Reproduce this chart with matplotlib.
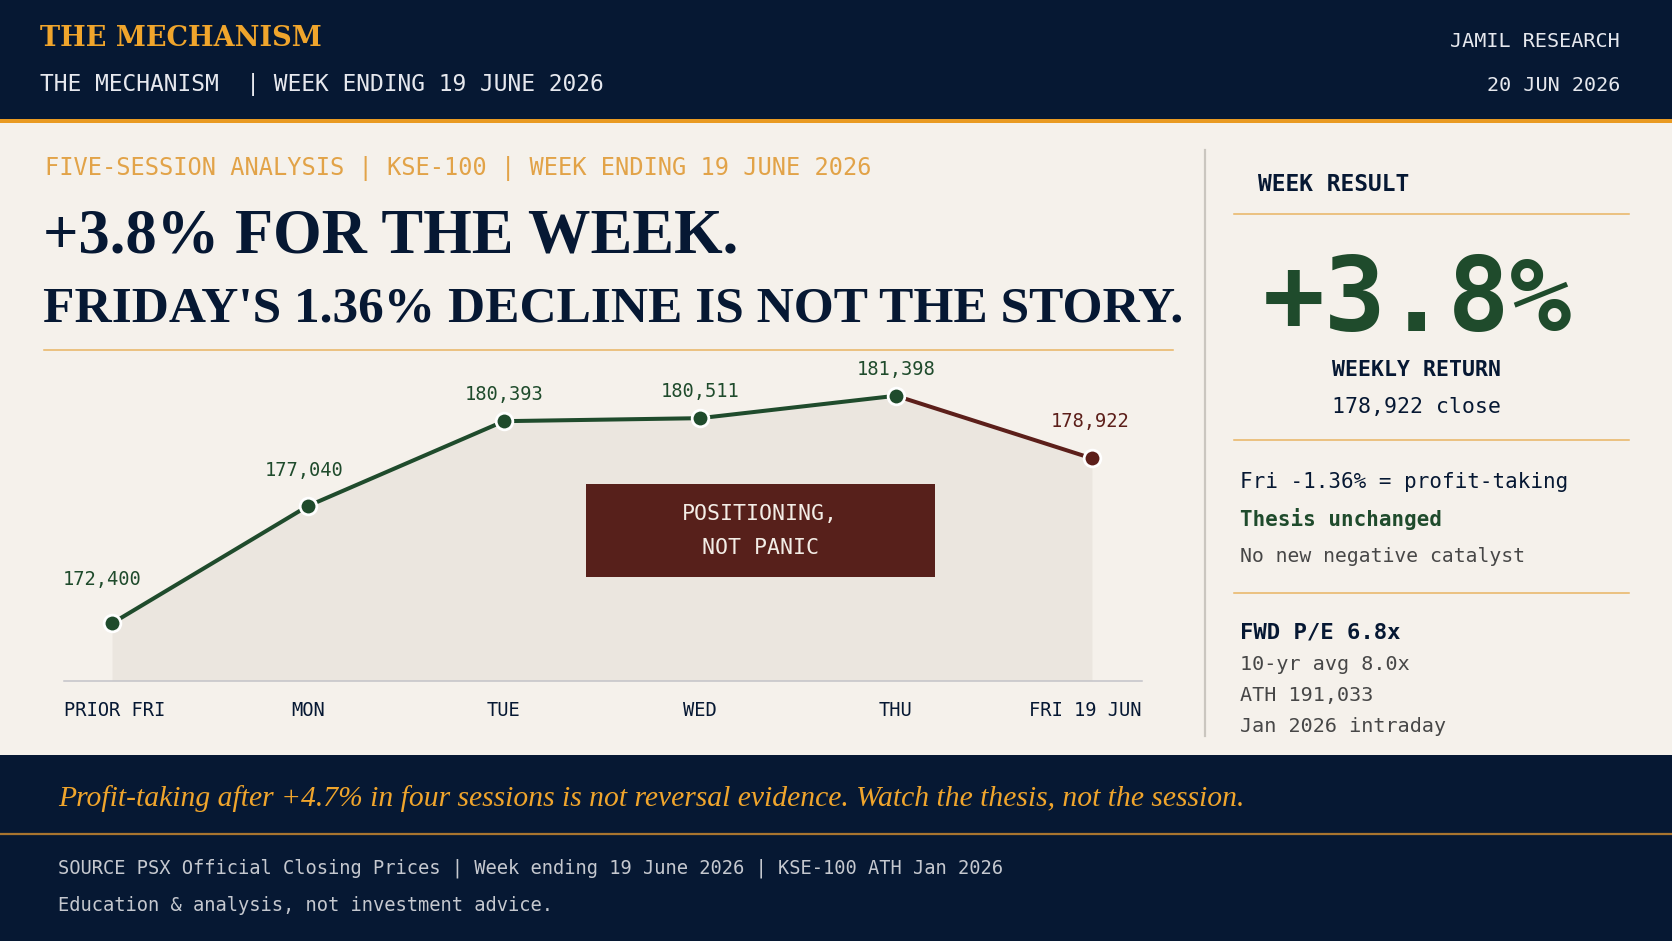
import matplotlib
matplotlib.use("Agg")
import matplotlib.pyplot as plt
from matplotlib.patches import Rectangle
from matplotlib.transforms import blended_transform_factory

# ---------------------------------------------------------------- data
sessions = ["PRIOR FRI", "MON", "TUE", "WED", "THU", "FRI 19 JUN"]
closes = [172400, 177040, 180393, 180511, 181398, 178922]
weekly_return = "+3.8%"
last_close = "178,922"

# ---------------------------------------------------------------- style
W, H = 1672, 941
NAVY = "#061833"
ORANGE = "#f0a52c"
KICKER = "#e2a348"
RULE = "#e8b462"
GREEN = "#1f4b2c"
RED = "#5c1f1a"
BOX = "#57201b"
PAPER = "#f5f1eb"
FILL = "#ebe6df"
GREY = "#474747"

MONO = "DejaVu Sans Mono"
SERIF = "Liberation Serif"

# label offsets above each point (pixels) -- layout only
label_dx = [-10, -4, 0, 0, 0, -2]
label_dy = [38, 30, 21, 21, 21, 31]

fig = plt.figure(figsize=(W / 100, H / 100), dpi=100, facecolor=PAPER)

# full-figure pixel canvas for the frame
bg = fig.add_axes([0, 0, 1, 1], zorder=0)
bg.set_xlim(0, W)
bg.set_ylim(H, 0)
bg.axis("off")

bg.add_patch(Rectangle((0, 0), W, 119, color=NAVY, lw=0))
bg.add_patch(Rectangle((0, 119), W, 4, color="#e99a22", lw=0))
bg.add_patch(Rectangle((0, 755), W, H - 755, color=NAVY, lw=0))
bg.plot([0, W], [834, 834], color="#a8742f", lw=1.6)

# header
bg.text(40, 46, "THE MECHANISM", family="DejaVu Serif", weight="bold",
        fontsize=19.5, color=ORANGE, va="baseline")
bg.text(40, 90.5, "THE MECHANISM  | WEEK ENDING 19 JUNE 2026", family=MONO,
        fontsize=16.5, color="#e6e8ee", va="baseline")
bg.text(1620, 46.5, "JAMIL RESEARCH", family=MONO, fontsize=14.5,
        color="#e6e8ee", va="baseline", ha="right")
bg.text(1620, 91, "20 JUN 2026", family=MONO, fontsize=14.5,
        color="#e6e8ee", va="baseline", ha="right")

# kicker + headline
bg.text(45, 175, "FIVE-SESSION ANALYSIS | KSE-100 | WEEK ENDING 19 JUNE 2026",
        family=MONO, fontsize=17, color=KICKER, va="baseline")
bg.text(43, 252, "+3.8% FOR THE WEEK.", family=SERIF, weight="bold",
        fontsize=45, color=NAVY, va="baseline")
bg.text(43, 321, "FRIDAY'S 1.36% DECLINE IS NOT THE STORY.", family=SERIF,
        weight="bold", fontsize=37, color=NAVY, va="baseline")
bg.plot([44, 1173], [350, 350], color=RULE, lw=1.1)

# divider and right panel
bg.plot([1205, 1205], [150, 736], color="#cac6bf", lw=1.6)
for y in (214, 440, 593):
    bg.plot([1234, 1629], [y, y], color=RULE, lw=1.1)

bg.text(1258, 190.5, "WEEK RESULT", family=MONO, weight="bold", fontsize=16.5,
        color=NAVY, va="baseline")
bg.text(1417, 331, weekly_return, family=MONO, weight="bold", fontsize=74,
        color=GREEN, va="baseline", ha="center")
bg.text(1417, 376.5, "WEEKLY RETURN", family=MONO, weight="bold", fontsize=15.5,
        color=NAVY, va="baseline", ha="center")
bg.text(1417, 413, f"{last_close} close", family=MONO, fontsize=15.5,
        color=NAVY, va="baseline", ha="center")

bg.text(1240, 488, "Fri -1.36% = profit-taking", family=MONO, fontsize=15,
        color=NAVY, va="baseline")
bg.text(1240, 526, "Thesis unchanged", family=MONO, weight="bold", fontsize=15,
        color=GREEN, va="baseline")
bg.text(1240, 561.5, "No new negative catalyst", family=MONO, fontsize=14.2,
        color=GREY, va="baseline")

bg.text(1240, 639, "FWD P/E 6.8x", family=MONO, weight="bold", fontsize=16,
        color=NAVY, va="baseline")
bg.text(1240, 670.5, "10-yr avg 8.0x", family=MONO, fontsize=14.5,
        color=GREY, va="baseline")
bg.text(1240, 701, "ATH 191,033", family=MONO, fontsize=14.5,
        color=GREY, va="baseline")
bg.text(1240, 732, "Jan 2026 intraday", family=MONO, fontsize=14.5,
        color=GREY, va="baseline")

# footer
bg.text(58, 806, "Profit-taking after +4.7% in four sessions is not reversal "
        "evidence. Watch the thesis, not the session.", family=SERIF,
        style="italic", fontsize=21.3, color=ORANGE, va="baseline")
bg.text(58, 873, "SOURCE PSX Official Closing Prices | Week ending 19 June 2026 "
        "| KSE-100 ATH Jan 2026", family=MONO, fontsize=13.5,
        color="#c5c8cf", va="baseline")
bg.text(58, 911, "Education & analysis, not investment advice.", family=MONO,
        fontsize=13.5, color="#c5c8cf", va="baseline")

# ---------------------------------------------------------------- chart
left, right, top, bottom = 64.4, 1141.5, 350, 680.7
ax = fig.add_axes([left / W, 1 - bottom / H, (right - left) / W, (bottom - top) / H],
                  zorder=1)
ax.set_facecolor("none")
x = list(range(len(closes)))
y_floor = 170130
ax.set_xlim(-0.243, len(closes) - 1 + 0.253)
ax.set_ylim(y_floor, 183207)

ax.fill_between(x, closes, y_floor, color=FILL, lw=0, zorder=1)
ax.plot(x[:5], closes[:5], color=GREEN, lw=2.9, zorder=2, solid_capstyle="round")
ax.plot(x[4:], closes[4:], color=RED, lw=2.9, zorder=2, solid_capstyle="round")
for i, (xi, yi) in enumerate(zip(x, closes)):
    c = RED if i == len(closes) - 1 else GREEN
    ax.plot(xi, yi, "o", ms=12, mfc=c, mec="white", mew=2, zorder=3)
    ax.annotate(f"{yi:,}", (xi, yi), xytext=(label_dx[i], label_dy[i]),
                textcoords="offset pixels", ha="center", va="baseline",
                family=MONO, fontsize=13.5, color=c, zorder=4)

for s in ("top", "right", "left"):
    ax.spines[s].set_visible(False)
ax.spines["bottom"].set_color("#c3c3c8")
ax.spines["bottom"].set_linewidth(1.1)
ax.set_xticks([])
ax.set_yticks([])

tick_y = -(716 - bottom) / (bottom - top)
blend = blended_transform_factory(ax.transData, ax.transAxes)
ax.text(0, tick_y, sessions[0], transform=ax.transAxes, ha="left", va="baseline",
        family=MONO, fontsize=13.5, color=NAVY)
for i in range(1, len(sessions) - 1):
    ax.text(x[i], tick_y, sessions[i], transform=blend, ha="center", va="baseline",
            family=MONO, fontsize=13.5, color=NAVY)
ax.text(1, tick_y, sessions[-1], transform=ax.transAxes, ha="right", va="baseline",
        family=MONO, fontsize=13.5, color=NAVY)

# callout box
top_ax = fig.add_axes([0, 0, 1, 1], zorder=2)
top_ax.set_xlim(0, W)
top_ax.set_ylim(H, 0)
top_ax.axis("off")
top_ax.add_patch(Rectangle((586, 484), 349, 93, color=BOX, lw=0))
top_ax.text(760, 531, "POSITIONING,\nNOT PANIC", family=MONO, fontsize=15.5,
            color="#f3ede6", ha="center", va="center", multialignment="center",
            linespacing=1.85)

fig.savefig("out.png", dpi=100, facecolor=PAPER)
